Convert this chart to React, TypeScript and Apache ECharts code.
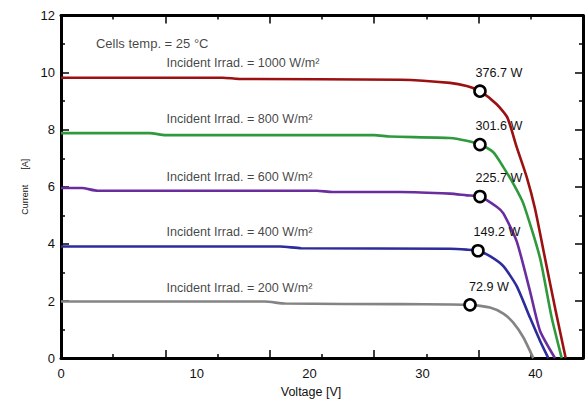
import React, { useEffect, useRef } from "react";
import * as echarts from "echarts";

// ---- Data (Voltage [V], Current [A]) ----
const curve1000: [number, number][] = [
  [0, 9.82], [15.5, 9.82], [17, 9.78], [32.5, 9.75], [37.26, 9.64], [38.86, 9.53],
  [40.13, 9.35], [41.73, 8.89], [42.75, 8.43], [43.65, 7.39], [44.61, 6.34],
  [45.4, 5.24], [46.36, 3.5], [47.38, 1.66], [48.34, 0],
];
const curve800: [number, number][] = [
  [0, 7.88], [8.5, 7.88], [10, 7.81], [30, 7.81], [31.5, 7.76], [37.26, 7.71],
  [38.86, 7.61], [40.13, 7.48], [41.41, 7.21], [42.37, 6.69], [43.32, 6.11],
  [44.28, 5.42], [45.88, 3.51], [47.0, 1.42], [47.96, 0],
];
const curve600: [number, number][] = [
  [0, 5.96], [2, 5.96], [3.5, 5.86], [24.5, 5.86], [26, 5.82], [32.47, 5.82],
  [37.26, 5.76], [38.86, 5.7], [40.13, 5.66], [41.73, 5.3], [42.37, 5.07],
  [43.65, 4.09], [44.92, 2.35], [45.88, 0.96], [47.32, 0],
];
const curve400: [number, number][] = [
  [0, 3.91], [21, 3.91], [23, 3.85], [37.26, 3.83], [38.86, 3.8], [39.94, 3.76],
  [41.09, 3.57], [42.37, 3.22], [43.65, 2.52], [44.92, 1.42], [45.88, 0.61], [46.68, 0],
];
const curve200: [number, number][] = [
  [0, 1.98], [19.5, 1.98], [21.5, 1.91], [32.47, 1.89], [37.26, 1.88], [39.18, 1.865],
  [41.09, 1.77], [42.37, 1.56], [43.3, 1.25], [44.28, 0.73], [45.24, 0],
];

const irradiances = [1000, 800, 600, 400, 200];
const mppVoltage = [40.13, 40.13, 40.13, 39.94, 39.18];
const mppCurrent = [9.35, 7.48, 5.66, 3.76, 1.865];
const mppPower = ["376.7 W", "301.6 W", "225.7 W", "149.2 W", "72.9 W"];

// annotation anchors (data coordinates)
const irradLabelVoltage = 10.1;
const irradLabelCurrent = [10.34, 8.37, 6.34, 4.41, 2.47];
const tempLabel = { v: 3.35, i: 11.03, text: "Cells temp. = 25 °C" };

const xTickLabels = ["0", "10", "20", "30", "40"];
const xTickValues = [10, 20, 30, 40];

const colors = ["#9b1111", "#2f9a3d", "#6a2d9f", "#2c2c9c", "#848484"];
const curves = [curve1000, curve800, curve600, curve400, curve200];

const FONT = "Liberation Sans, Arial, Helvetica, sans-serif";

export default function App() {
  const ref = useRef<HTMLDivElement>(null);
  useEffect(() => {
    document.body.style.margin = "0";
    if (!ref.current) return;
    const chart = echarts.init(ref.current, null, { renderer: "svg" });
    const labelMin = -2.02;
    const labelMax = 44.22;
    const axisLineStyle = { lineStyle: { color: "#000", width: 3 } };
    const tickCommon = {
      show: true,
      inside: true,
      length: 8,
      lineStyle: { color: "#000", width: 1.5 },
    };
    const minorCommon = {
      show: true,
      splitNumber: 2,
      length: 4,
      lineStyle: { color: "#000", width: 1.5 },
    };
    const series: any[] = [];
    curves.forEach((c, k) => {
      series.push({
        type: "line",
        name: irradiances[k] + " W/m²",
        data: c,
        xAxisIndex: 0,
        yAxisIndex: 0,
        showSymbol: false,
        smooth: 0.2,
        lineStyle: { color: colors[k], width: 2.6 },
        z: 2,
      });
    });
    series.push({
      type: "scatter",
      xAxisIndex: 0,
      yAxisIndex: 0,
      data: mppVoltage.map((v, k) => ({
        value: [v, mppCurrent[k]],
        label: { formatter: mppPower[k] },
      })),
      symbol: "circle",
      symbolSize: 11,
      itemStyle: { color: "#fff", borderColor: "#000", borderWidth: 2.6, opacity: 1 },
      label: {
        show: true,
        position: "top",
        distance: 5,
        offset: [19, 0],
        color: "#111",
        fontSize: 12.6,
        fontFamily: FONT,
      },
      z: 5,
    });
    series.push({
      type: "scatter",
      xAxisIndex: 0,
      yAxisIndex: 0,
      symbolSize: 0,
      silent: true,
      data: [
        ...irradiances.map((r, k) => ({
          value: [irradLabelVoltage, irradLabelCurrent[k]],
          label: { formatter: "Incident Irrad. = " + r + " W/m²", fontSize: 12.6 },
        })),
        {
          value: [tempLabel.v, tempLabel.i],
          label: { formatter: tempLabel.text, fontSize: 13 },
        },
      ],
      label: {
        show: true,
        position: "right",
        distance: 0,
        color: "#111",
        fontFamily: FONT,
      },
      z: 4,
    });

    chart.setOption({
      animation: false,
      backgroundColor: "#fff",
      textStyle: { fontFamily: FONT },
      grid: { left: 61, right: 2, top: 15.5, bottom: 42, containLabel: false },
      xAxis: [
        {
          type: "value",
          position: "bottom",
          min: 0,
          max: 50,
          interval: 10,
          axisLine: { show: true, onZero: false, ...axisLineStyle },
          axisTick: tickCommon,
          minorTick: minorCommon,
          axisLabel: { show: false },
          splitLine: { show: false },
        },
        {
          type: "value",
          position: "top",
          min: 0,
          max: 50,
          interval: 10,
          axisLine: { show: true, onZero: false, ...axisLineStyle },
          axisTick: tickCommon,
          minorTick: minorCommon,
          axisLabel: { show: false },
          splitLine: { show: false },
        },
        {
          type: "value",
          position: "bottom",
          min: labelMin,
          max: labelMax,
          axisLine: { show: false, onZero: false },
          axisTick: { show: false },
          splitLine: { show: false },
          axisLabel: {
            show: true,
            customValues: [labelMin, ...xTickValues],
            formatter: (v: number) =>
              v < 0 ? xTickLabels[0] : xTickLabels[xTickValues.indexOf(Math.round(v)) + 1],
            hideOverlap: false,
            margin: 9,
            color: "#111",
            fontSize: 13,
            fontFamily: FONT,
          },
          name: "Voltage [V]",
          nameLocation: "middle",
          nameGap: 25,
          nameTextStyle: {
            color: "#111",
            fontSize: 12.5,
            fontFamily: FONT,
            padding: [0, 22, 0, 0],
          },
        },
      ],
      yAxis: [
        {
          type: "value",
          position: "left",
          min: 0,
          max: 12,
          interval: 2,
          axisLine: { show: true, onZero: false, ...axisLineStyle },
          axisTick: tickCommon,
          minorTick: minorCommon,
          splitLine: { show: false },
          axisLabel: {
            show: true,
            margin: 6,
            color: "#111",
            fontSize: 13,
            fontFamily: FONT,
          },
          name: "Current      [A]",
          nameLocation: "middle",
          nameGap: 26,
          nameTextStyle: { color: "#111", fontSize: 9, fontFamily: FONT },
        },
        {
          type: "value",
          position: "right",
          min: 0,
          max: 12,
          interval: 2,
          axisLine: { show: true, onZero: false, ...axisLineStyle },
          axisTick: tickCommon,
          minorTick: minorCommon,
          splitLine: { show: false },
          axisLabel: { show: false },
        },
      ],
      series,
    });
    return () => chart.dispose();
  }, []);
  return <div ref={ref} style={{ width: 585, height: 403 }} />;
}
